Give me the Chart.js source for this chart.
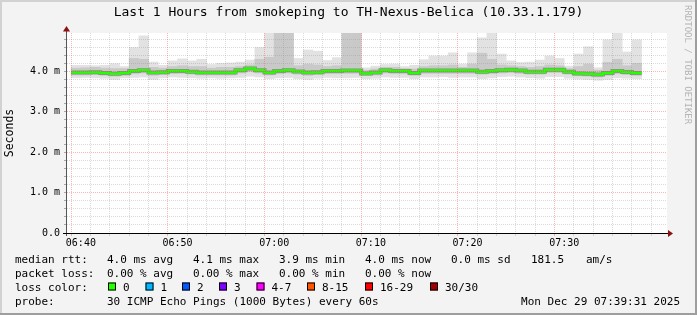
<!DOCTYPE html>
<html>
<head>
<meta charset="utf-8">
<script src="https://cdn.jsdelivr.net/npm/chart.js@4/dist/chart.umd.min.js"></script>
<style>
  html, body { margin: 0; padding: 0; background: #f3f3f3; }
  canvas { display: block; }
</style>
</head>
<body>
<canvas id="chart" width="697" height="315"></canvas>
<script>
// one bin per minute, labelled by its start time
const binStarts = [
  "06:39","06:40","06:41","06:42","06:43","06:44","06:45","06:46","06:47","06:48",
  "06:49","06:50","06:51","06:52","06:53","06:54","06:55","06:56","06:57","06:58",
  "06:59","07:00","07:01","07:02","07:03","07:04","07:05","07:06","07:07","07:08",
  "07:09","07:10","07:11","07:12","07:13","07:14","07:15","07:16","07:17","07:18",
  "07:19","07:20","07:21","07:22","07:23","07:24","07:25","07:26","07:27","07:28",
  "07:29","07:30","07:31","07:32","07:33","07:34","07:35","07:36","07:37"
];

// median rtt (ms)
const medianMs = [
  3.97,3.97,3.98,3.96,3.94,3.96,4.01,4.03,3.97,3.98,
  4.01,4.01,3.99,3.97,3.97,3.97,3.97,4.03,4.07,4.03,
  3.97,4.01,4.03,4.00,3.97,3.98,4.01,4.01,4.02,4.02,
  3.95,3.97,4.03,4.01,4.01,3.96,4.02,4.02,4.02,4.02,
  4.02,4.02,3.99,4.01,4.03,4.04,4.02,3.99,3.99,4.04,
  4.04,3.99,3.95,3.94,3.92,3.96,4.01,3.985,3.96
];

// smoke: slowest ping of each bin (ms)
const maxMs = [
  4.15,4.15,4.14,4.15,4.19,4.12,4.59,4.88,4.23,4.15,
  4.26,4.31,4.26,4.30,4.17,4.20,4.21,4.23,4.28,4.59,
  5.20,5.30,5.30,4.32,4.53,4.50,4.27,4.34,5.30,5.30,
  4.09,4.13,4.17,4.18,4.12,4.15,4.29,4.38,4.38,4.46,
  4.18,4.46,4.83,5.20,4.43,4.26,4.22,4.23,4.28,4.38,
  4.32,4.13,4.43,4.61,4.09,4.78,5.10,4.48,4.78
];

// smoke: upper edge of the dense part (ms)
const upperMs = [
  4.08,4.09,4.10,4.08,4.07,4.07,4.32,4.30,4.10,4.08,
  4.12,4.14,4.12,4.12,4.08,4.10,4.10,4.12,4.16,4.30,
  4.35,5.30,5.30,4.14,4.18,4.16,4.12,4.14,5.30,5.30,
  4.03,4.06,4.10,4.10,4.07,4.06,4.12,4.14,4.14,4.16,
  4.10,4.18,4.45,4.30,4.16,4.14,4.12,4.10,4.12,4.16,
  4.14,4.07,4.12,4.18,4.03,4.22,4.30,4.14,4.20
];

// smoke: lower edge of the dense part (ms)
const lowerMs = [
  3.91,3.91,3.92,3.90,3.88,3.90,3.94,3.96,3.90,3.92,
  3.94,3.95,3.93,3.91,3.91,3.91,3.91,3.96,3.99,3.96,
  3.91,3.94,3.96,3.93,3.90,3.92,3.94,3.94,3.95,3.95,
  3.90,3.91,3.96,3.94,3.94,3.90,3.95,3.95,3.95,3.95,
  3.95,3.95,3.93,3.94,3.96,3.97,3.95,3.93,3.93,3.97,
  3.97,3.93,3.89,3.88,3.86,3.90,3.94,3.92,3.90
];

// smoke: fastest ping of each bin (ms)
const minMs = [
  3.84,3.85,3.84,3.83,3.80,3.84,3.85,3.86,3.80,3.84,
  3.86,3.85,3.84,3.83,3.84,3.83,3.84,3.85,3.88,3.86,
  3.82,3.84,3.85,3.82,3.80,3.83,3.85,3.84,3.84,3.85,
  3.82,3.83,3.86,3.85,3.85,3.82,3.86,3.86,3.87,3.85,
  3.86,3.86,3.82,3.84,3.87,3.88,3.86,3.84,3.83,3.87,
  3.87,3.83,3.81,3.80,3.78,3.80,3.84,3.83,3.82
];

const lossLabels = ["0", "1", "2", "3", "4-7", "8-15", "16-29", "30/30"];
const lossColors = ["#26ff00", "#00b8ff", "#0059ff", "#7e00ff", "#ff00ff", "#ff5500", "#ff0000", "#a10000"];

const titleText = "Last 1 Hours from smokeping to TH-Nexus-Belica (10.33.1.179)";
const rttStats = ["4.0 ms avg", "4.1 ms max", "3.9 ms min", "4.0 ms now", "0.0 ms sd", "181.5", "am/s"];
const lossStats = ["0.00 % avg", "0.00 % max", "0.00 % min", "0.00 % now"];
const probeText = "30 ICMP Echo Pings (1000 Bytes) every 60s";
const stampText = "Mon Dec 29 07:39:31 2025";

// x scale is in minutes, 0 = 06:40
const baseMin = 6 * 60 + 40;
function toMin(s) {
  const [h, m] = s.split(":").map(Number);
  return h * 60 + m - baseMin;
}
function fmtMin(v) {
  const t = baseMin + v;
  return String(Math.floor(t / 60)).padStart(2, "0") + ":" + String(t % 60).padStart(2, "0");
}

const xs = binStarts.map(toMin);
const band = (lo, hi) => xs.map((x, i) => ({ x: x + 0.5, y: [lo[i], hi[i]] }));
const medianPts = [];
xs.forEach((x, i) => {
  medianPts.push({ x: x, y: medianMs[i] }, { x: x + 1, y: medianMs[i] });
});

const MONO = "DejaVu Sans Mono";
const minorGrid = "rgba(140,140,140,0.32)";
const majorGrid = "rgba(255,60,60,0.38)";
const isWhole = v => Math.abs(v - Math.round(v)) < 1e-6;

const rrdDecor = {
  id: "rrdDecor",
  beforeDraw(chart) {
    const ctx = chart.ctx, a = chart.chartArea;
    ctx.save();
    ctx.fillStyle = "#f3f3f3";
    ctx.fillRect(0, 0, chart.width, chart.height);
    ctx.fillStyle = "#ffffff";
    ctx.fillRect(a.left, a.top, a.right - a.left, a.bottom - a.top);
    ctx.restore();
  },
  afterDraw(chart) {
    const ctx = chart.ctx, a = chart.chartArea;
    ctx.save();

    // axes with arrows
    ctx.lineWidth = 1;
    ctx.strokeStyle = "#555";
    ctx.beginPath();
    ctx.moveTo(a.left - 0.5, a.bottom + 3);
    ctx.lineTo(a.left - 0.5, a.top - 4);
    ctx.stroke();
    ctx.strokeStyle = "#000";
    ctx.beginPath();
    ctx.moveTo(a.left - 4, a.bottom + 0.5);
    ctx.lineTo(a.right + 2, a.bottom + 0.5);
    ctx.stroke();
    ctx.fillStyle = "#8b1010";
    ctx.beginPath();
    ctx.moveTo(a.left - 0.5, a.top - 7);
    ctx.lineTo(a.left - 4, a.top - 1.5);
    ctx.lineTo(a.left + 3, a.top - 1.5);
    ctx.closePath();
    ctx.fill();
    ctx.beginPath();
    ctx.moveTo(a.right + 6, a.bottom + 0.5);
    ctx.lineTo(a.right + 1, a.bottom - 3);
    ctx.lineTo(a.right + 1, a.bottom + 4);
    ctx.closePath();
    ctx.fill();

    // title
    ctx.fillStyle = "#000";
    ctx.font = "13px '" + MONO + "'";
    ctx.textAlign = "center";
    ctx.textBaseline = "middle";
    ctx.fillText(titleText, chart.width / 2, 13);

    // watermark
    ctx.save();
    ctx.translate(687.5, 5);
    ctx.rotate(Math.PI / 2);
    ctx.font = "9px '" + MONO + "'";
    ctx.fillStyle = "#b4b4b4";
    ctx.textAlign = "left";
    ctx.textBaseline = "middle";
    ctx.fillText("RRDTOOL / TOBI OETIKER", 0, 0);
    ctx.restore();

    // legend lines
    ctx.font = "11px '" + MONO + "'";
    ctx.textAlign = "left";
    ctx.textBaseline = "alphabetic";
    ctx.fillStyle = "#000";
    const cols = [107, 193, 279, 365, 451, 531, 586];
    ctx.fillText("median rtt:", 15, 262.5);
    rttStats.forEach((t, i) => ctx.fillText(t, cols[i], 262.5));
    ctx.fillText("packet loss:", 15, 276.5);
    lossStats.forEach((t, i) => ctx.fillText(t, cols[i], 276.5));
    ctx.fillText("loss color:", 15, 290.5);
    const boxX = [108, 145.5, 182, 219, 256.5, 307, 365, 430];
    lossLabels.forEach((t, i) => {
      ctx.fillStyle = lossColors[i];
      ctx.fillRect(boxX[i], 282.5, 8, 8);
      ctx.strokeStyle = "#000";
      ctx.strokeRect(boxX[i] + 0.5, 283, 7, 7);
      ctx.fillStyle = "#000";
      ctx.fillText(t, boxX[i] + 15, 290.5);
    });
    ctx.fillText("probe:", 15, 304.5);
    ctx.fillText(probeText, 107, 304.5);
    ctx.textAlign = "right";
    ctx.fillText(stampText, 680, 304.5);

    // 3d frame
    ctx.fillStyle = "#d2d2d2";
    ctx.fillRect(0, 0, chart.width, 2);
    ctx.fillRect(0, 0, 2, chart.height);
    ctx.fillStyle = "#9e9e9e";
    ctx.fillRect(0, chart.height - 2, chart.width, 2);
    ctx.fillRect(chart.width - 2, 0, 2, chart.height);
    ctx.restore();
  }
};

new Chart(document.getElementById("chart"), {
  type: "bar",
  data: {
    datasets: [
      { type: "line", data: medianPts, borderColor: lossColors[0], borderWidth: 2.5,
        pointRadius: 0, tension: 0, borderCapStyle: "butt", borderJoinStyle: "miter", order: 0 },
      { type: "line", data: medianPts, borderColor: "#8c8c8c", borderWidth: 4,
        pointRadius: 0, tension: 0, borderCapStyle: "butt", borderJoinStyle: "miter", order: 1 },
      { type: "bar", data: band(lowerMs, upperMs), backgroundColor: "#c9c9c9", order: 2 },
      { type: "bar", data: band(minMs, maxMs), backgroundColor: "#e2e2e2", order: 3 }
    ]
  },
  options: {
    responsive: false,
    animation: false,
    events: [],
    layout: { padding: { left: 0, top: 33, right: 30, bottom: 60 } },
    plugins: { legend: { display: false }, tooltip: { enabled: false } },
    datasets: {
      bar: { grouped: false, barPercentage: 1, categoryPercentage: 1, borderWidth: 0 }
    },
    scales: {
      x: {
        type: "linear",
        min: -0.4,
        max: 59.6,
        afterFit(s) { s.height = 22; },
        afterBuildTicks(s) {
          const t = [];
          for (let v = 0; v <= 58; v += 2) t.push({ value: v });
          s.ticks = t;
        },
        ticks: {
          autoSkip: false, maxRotation: 0, padding: 1, color: "#000",
          font: { family: MONO, size: 10 },
          callback: v => (v % 10 === 0 ? fmtMin(v) : "")
        },
        grid: {
          z: 1,
          lineWidth: 1,
          tickLength: 3,
          color: c => (c.tick && c.tick.value % 10 === 0 ? majorGrid : minorGrid),
          tickColor: c => (c.tick && c.tick.value % 10 === 0 ? majorGrid : minorGrid)
        },
        border: { display: false, dash: [1, 1] }
      },
      y: {
        min: 0,
        max: 4.95,
        afterFit(s) { s.width = 67; },
        ticks: {
          stepSize: 0.2, includeBounds: false, autoSkip: false, padding: 4, color: "#000",
          font: { family: MONO, size: 10 },
          callback: v => (isWhole(v) ? (Math.round(v) === 0 ? "0.0" : v.toFixed(1) + " m") : "")
        },
        title: {
          display: true, text: "Seconds", color: "#000",
          font: { family: MONO, size: 11.5 },
          padding: { top: 3, bottom: 0 }
        },
        grid: {
          z: 1,
          lineWidth: 1,
          tickLength: 3,
          color: c => (c.tick && isWhole(c.tick.value) ? majorGrid : minorGrid),
          tickColor: "#a8a8a8"
        },
        border: { display: false, dash: [1, 1] }
      }
    }
  },
  plugins: [rrdDecor]
});
</script>
</body>
</html>
